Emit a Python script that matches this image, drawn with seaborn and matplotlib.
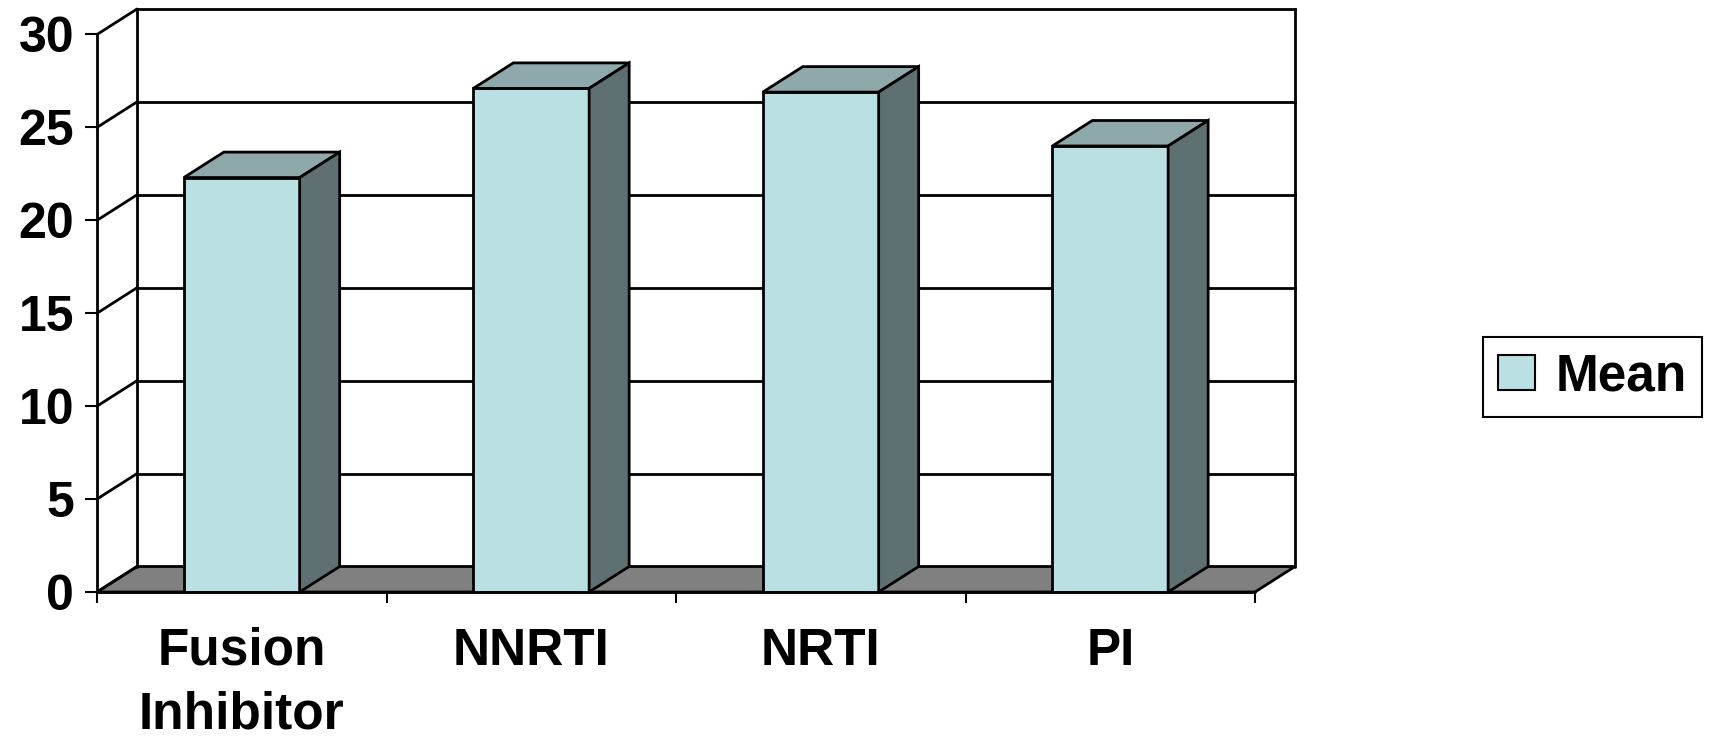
import matplotlib
matplotlib.use("Agg")
import matplotlib.pyplot as plt
from matplotlib.patches import Patch
import seaborn as sns
import pandas as pd

# Data
categories = ["Fusion\nInhibitor", "NNRTI", "NRTI", "PI"]
mean_values = [22.3, 27.1, 26.9, 24.0]
y_ticks = [0, 5, 10, 15, 20, 25, 30]

# Colours for the pseudo-3D boxes
FRONT = "#BBE0E3"
TOP = "#8FA9AB"
SIDE = "#5F7073"
FLOOR = "#808080"

sns.set_style("white")
plt.rcParams["font.family"] = ["Liberation Sans", "DejaVu Sans"]
plt.rcParams["font.weight"] = "bold"
plt.rcParams["text.color"] = "black"
plt.rcParams["xtick.color"] = "black"
plt.rcParams["ytick.color"] = "black"

W, H = 1712, 738
fig = plt.figure(figsize=(W / 100, H / 100), dpi=100)

# Axes frame in pixels: front origin at (97, 592), back wall top-right at (1295, 9)
x0_px, x1_px = 97, 1295
y0_px, y1_px = 592, 9
ax = fig.add_axes([x0_px / W, 1 - y0_px / H, (x1_px - x0_px) / W, (y0_px - y1_px) / H])

cat_px = (1255 - 97) / 4.0          # pixels per category on the front plane
unit_px = (592 - 34.3) / 30.0       # pixels per value unit
dx = 40 / cat_px                    # depth offset in category units
dy = 25.5 / unit_px                 # depth offset in value units

LW = 2.0
ymax = max(y_ticks)

# Front faces of the bars
df = pd.DataFrame({"category": categories, "Mean": mean_values})
sns.barplot(data=df, x="category", y="Mean", color=FRONT, width=0.4,
            edgecolor="black", linewidth=LW, saturation=1, ax=ax, zorder=3)

ax.set_xlim(-0.5, 3.5 + dx)
ax.set_ylim(0, 30 + dy)

# Floor
ax.fill([-0.5, 3.5, 3.5 + dx, -0.5 + dx], [0, 0, dy, dy],
        facecolor=FLOOR, edgecolor="black", linewidth=LW, zorder=1, clip_on=False)

# Back wall gridlines and outline
for v in y_ticks[1:]:
    ax.plot([-0.5 + dx, 3.5 + dx], [v + dy, v + dy], color="black", lw=LW, zorder=1,
            solid_capstyle="projecting", clip_on=False)
ax.plot([-0.5 + dx, -0.5 + dx], [dy, ymax + dy], color="black", lw=LW, zorder=1, clip_on=False)
ax.plot([3.5 + dx, 3.5 + dx], [dy, ymax + dy], color="black", lw=LW, zorder=1, clip_on=False)

# Side wall diagonals
for v in y_ticks:
    ax.plot([-0.5, -0.5 + dx], [v, v + dy], color="black", lw=LW, zorder=1, clip_on=False)

# Front axes lines
ax.plot([-0.5, -0.5], [0, ymax], color="black", lw=LW, zorder=5, clip_on=False)
ax.plot([-0.5, 3.5], [0, 0], color="black", lw=LW, zorder=5, clip_on=False)

# Top and side faces from each bar's geometry
for p in list(ax.patches):
    if not hasattr(p, "get_width"):
        continue
    bx, bw, bh = p.get_x(), p.get_width(), p.get_height()
    p.set_zorder(3)
    ax.fill([bx, bx + bw, bx + bw + dx, bx + dx], [bh, bh, bh + dy, bh + dy],
            facecolor=TOP, edgecolor="black", linewidth=LW, zorder=3, joinstyle="miter")
    ax.fill([bx + bw, bx + bw + dx, bx + bw + dx, bx + bw], [0, dy, bh + dy, bh],
            facecolor=SIDE, edgecolor="black", linewidth=LW, zorder=3, joinstyle="miter")

# Axis styling
for s in ax.spines.values():
    s.set_visible(False)
ax.set_xlabel("")
ax.set_ylabel("")
ax.set_yticks(y_ticks)
ax.set_yticklabels([str(v) for v in y_ticks], fontsize=36, fontweight="bold")
ax.tick_params(axis="y", which="major", direction="out", length=8.6, width=1.5,
               pad=8, left=True, colors="black")

ax.set_xticks(range(len(categories)))
ax.set_xticklabels(categories, fontsize=37, fontweight="bold", linespacing=1.38)
ax.set_xticks([i - 0.5 for i in range(len(categories) + 1)], minor=True)
ax.tick_params(axis="x", which="major", length=0, pad=25)
ax.tick_params(axis="x", which="minor", direction="out", length=8, width=1.5, bottom=True)
ax.grid(False)

# Legend
handle = Patch(facecolor=FRONT, edgecolor="black", linewidth=1.5)
leg = fig.legend([handle], ["Mean"], loc="center",
                 bbox_to_anchor=((1477 + 1708) / 2 / W, 1 - 377 / H),
                 bbox_transform=fig.transFigure, frameon=True, fancybox=False,
                 prop={"size": 37, "weight": "bold"},
                 handlelength=0.72, handleheight=0.66, handletextpad=0.4,
                 borderpad=0.3, borderaxespad=0)
for t in leg.get_texts():
    t.set_color("black")
leg.get_frame().set_edgecolor("black")
leg.get_frame().set_linewidth(1.5)
leg.get_frame().set_alpha(1)

fig.savefig("out.png", dpi=100)
